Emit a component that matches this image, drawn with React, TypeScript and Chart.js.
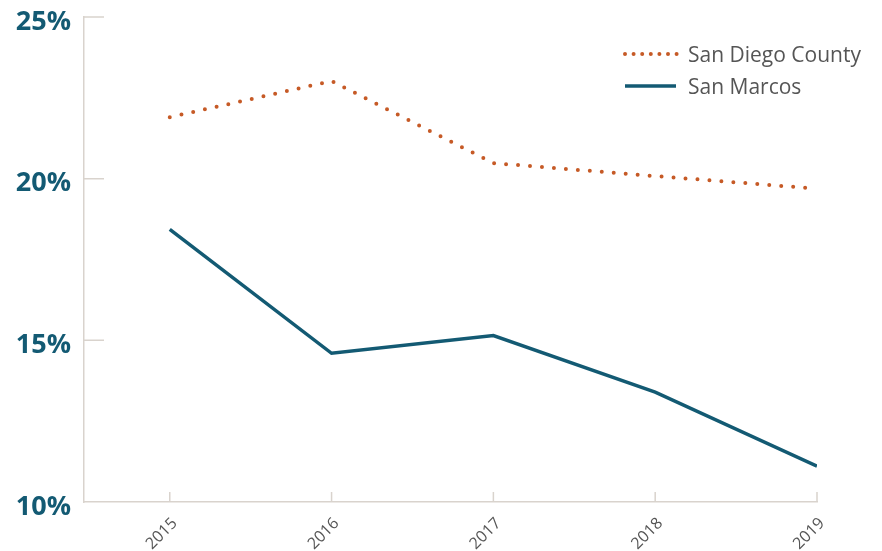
import React, { useEffect, useRef } from "react";
import { Chart, registerables } from "chart.js";

Chart.register(...registerables);

const years = [2015, 2016, 2017, 2018, 2019];
const sanDiegoCounty = [21.9, 23.02, 20.48, 20.08, 19.69];
const sanMarcos = [18.43, 14.6, 15.15, 13.4, 11.11];
const yTicks = [10, 15, 20, 25];
const seriesNames = ["San Diego County", "San Marcos"];

const TEAL = "#135a73";
const ORANGE = "#c65a26";
const AXIS = "#d9d3cd";

const tickMarks = {
  id: "tickMarks",
  afterDraw(chart: any) {
    const ctx = chart.ctx;
    const xs = chart.scales.x;
    const ys = chart.scales.y;
    const area = chart.chartArea;
    ctx.save();
    ctx.strokeStyle = AXIS;
    ctx.lineWidth = 1.5;
    ctx.beginPath();
    yTicks.slice(1).forEach((v) => {
      const py = ys.getPixelForValue(v);
      ctx.moveTo(area.left, py);
      ctx.lineTo(area.left + 20, py);
    });
    years.forEach((v) => {
      const px = xs.getPixelForValue(v);
      ctx.moveTo(px, area.bottom);
      ctx.lineTo(px, area.bottom - 10);
    });
    ctx.stroke();
    ctx.restore();
  },
};

export default function App() {
  const ref = useRef<HTMLCanvasElement>(null);
  useEffect(() => {
    if (!ref.current) return;
    const chart = new Chart(ref.current, {
      type: "line",
      data: {
        datasets: [
          {
            label: seriesNames[0],
            data: years.map((x, i) => ({ x, y: sanDiegoCounty[i] })),
            borderColor: ORANGE,
            borderWidth: 4,
            borderDash: [0, 12],
            borderCapStyle: "round",
            pointRadius: 0,
            tension: 0,
          },
          {
            label: seriesNames[1],
            data: years.map((x, i) => ({ x, y: sanMarcos[i] })),
            borderColor: TEAL,
            borderWidth: 3.5,
            pointRadius: 0,
            tension: 0,
          },
        ],
      },
      options: {
        animation: false,
        responsive: true,
        maintainAspectRatio: false,
        layout: { padding: { top: 9, right: 57, left: 0, bottom: 0 } },
        plugins: { legend: { display: false }, tooltip: { enabled: false } },
        scales: {
          x: {
            type: "linear",
            min: 2014.47,
            max: 2019,
            afterBuildTicks: (s: any) => {
              s.ticks = years.map((v) => ({ value: v }));
            },
            afterFit: (s: any) => {
              s.height = 49;
              s.paddingLeft = 0;
              s.paddingRight = 0;
            },
            grid: { display: false, drawTicks: false },
            border: { display: true, color: AXIS, width: 1.5 },
            ticks: {
              minRotation: 45,
              maxRotation: 45,
              padding: 12,
              labelOffset: 5,
              color: "#555",
              font: { family: "'Open Sans'", size: 16 },
              callback: (v: any) => String(v),
            },
          },
          y: {
            min: 10,
            max: 25,
            afterBuildTicks: (s: any) => {
              s.ticks = yTicks.map((v) => ({ value: v }));
            },
            afterFit: (s: any) => {
              s.width = 76;
              s.paddingTop = 0;
              s.paddingBottom = 0;
            },
            grid: { display: false, drawTicks: false },
            border: { display: true, color: AXIS, width: 1.5 },
            ticks: {
              padding: 13,
              labelOffset: 5,
              color: TEAL,
              font: { family: "'Open Sans'", size: 27, weight: 700 as any },
              callback: (v: any) => v + "%",
            },
          },
        },
      },
      plugins: [tickMarks],
    });
    return () => chart.destroy();
  }, []);

  const legendText: React.CSSProperties = {
    position: "absolute",
    left: 680,
    fontFamily: "'Open Sans'",
    fontSize: 21,
    color: "#555",
    lineHeight: "24px",
    whiteSpace: "nowrap",
  };

  return (
    <div style={{ position: "relative", width: 866, height: 543 }}>
      <canvas ref={ref} />
      <svg
        style={{ position: "absolute", left: 612, top: 36, width: 64, height: 60 }}
        width={64}
        height={60}
      >
        <line
          x1={5}
          y1={10}
          x2={58}
          y2={10}
          stroke={ORANGE}
          strokeWidth={4}
          strokeLinecap="round"
          strokeDasharray="0 8.6"
        />
        <line x1={5} y1={42} x2={56} y2={42} stroke={TEAL} strokeWidth={3.5} />
      </svg>
      <div style={{ ...legendText, top: 34 }}>{seriesNames[0]}</div>
      <div style={{ ...legendText, top: 66 }}>{seriesNames[1]}</div>
    </div>
  );
}
